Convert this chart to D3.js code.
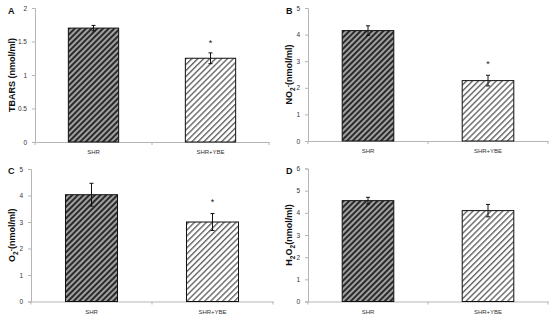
<!DOCTYPE html>
<html>
<head>
<meta charset="utf-8">
<script src="https://cdn.jsdelivr.net/npm/d3@7"></script>
<style>
  body { margin: 0; background: #fff; }
  svg { display: block; font-family: "Liberation Sans", Arial, sans-serif; }
</style>
</head>
<body>
<div id="chart"></div>
<script>
// groups on the x axis
var groups = ["SHR", "SHR+YBE"];

// mean values and errors per panel
var tbars = [1.70, 1.25], tbarsErr = [0.04, 0.08];
var no2 = [4.15, 2.27], no2Err = [0.18, 0.20];
var o2 = [4.03, 3.00], o2Err = [0.43, 0.32];
var h2o2 = [4.55, 4.10], h2o2Err = [0.15, 0.28];

// significance stars (value where the * sits, null = none)
var starsA = [null, 1.50], starsB = [null, 2.92], starsC = [null, 3.78], starsD = [null, null];

// y tick labels
var ticksA = [0, 0.5, 1, 1.5, 2];
var ticksB = [0, 1, 2, 3, 4, 5];
var ticksC = [0, 1, 2, 3, 4, 5];
var ticksD = [0, 1, 2, 3, 4, 5, 6];

var svg = d3.select("#chart").append("svg")
    .attr("width", 550)
    .attr("height", 321);

// hatch patterns
var defs = svg.append("defs");
var p1 = defs.append("pattern")
    .attr("id", "dark")
    .attr("patternUnits", "userSpaceOnUse")
    .attr("width", 4).attr("height", 4)
    .attr("patternTransform", "rotate(45)");
p1.append("rect").attr("width", 4).attr("height", 4).attr("fill", "#a0a0a0");
p1.append("rect").attr("width", 2).attr("height", 4).attr("fill", "#2a2a2a");

var p2 = defs.append("pattern")
    .attr("id", "light")
    .attr("patternUnits", "userSpaceOnUse")
    .attr("width", 4.2).attr("height", 4.2)
    .attr("patternTransform", "rotate(45)");
p2.append("rect").attr("width", 4.2).attr("height", 4.2).attr("fill", "#fff");
p2.append("rect").attr("width", 1.4).attr("height", 4.2).attr("fill", "#666");

var fills = ["url(#dark)", "url(#light)"];

function panel(opt) {
  var x = d3.scaleBand().domain(groups)
      .range([opt.left, opt.right])
      .paddingInner(0.57).paddingOuter(0.285);
  var y = d3.scaleLinear().domain([0, opt.max]).range([opt.bottom, opt.top]);
  var g = svg.append("g");

  // y axis
  var ya = g.append("g")
      .attr("transform", "translate(" + opt.left + ",0)")
      .call(d3.axisLeft(y).tickValues(opt.ticks).tickFormat(d3.format("~g"))
        .tickSize(3).tickPadding(5));
  ya.select(".domain").attr("stroke", "#b5b5b5");
  ya.selectAll(".tick line").attr("stroke", "#b5b5b5");
  ya.selectAll("text").attr("font-size", 6.5).attr("fill", "#333");

  // x axis
  var xa = g.append("g")
      .attr("transform", "translate(0," + opt.bottom + ")")
      .call(d3.axisBottom(x).tickSize(0).tickPadding(8));
  xa.select(".domain").attr("stroke", "#b5b5b5");
  xa.selectAll("text").attr("font-size", 6).attr("fill", "#333");
  var step = x.step();
  [opt.left, opt.left + step, opt.right].forEach(function(v) {
    xa.append("line").attr("x1", v).attr("x2", v).attr("y1", 0).attr("y2", 3)
      .attr("stroke", "#b5b5b5");
  });

  // bars
  g.selectAll(".bar").data(opt.vals).enter().append("rect")
      .attr("x", function(d, i) { return x(groups[i]); })
      .attr("y", function(d) { return y(d); })
      .attr("width", x.bandwidth())
      .attr("height", function(d) { return opt.bottom - y(d); })
      .attr("fill", function(d, i) { return fills[i]; })
      .attr("stroke", "#111")
      .attr("stroke-width", 1);

  // error bars
  opt.vals.forEach(function(v, i) {
    var cx = x(groups[i]) + x.bandwidth() / 2;
    var e = opt.err[i];
    g.append("line").attr("x1", cx).attr("x2", cx)
      .attr("y1", y(v + e)).attr("y2", y(v - e)).attr("stroke", "#111");
    [v + e, v - e].forEach(function(w) {
      g.append("line").attr("x1", cx - 2).attr("x2", cx + 2)
        .attr("y1", y(w)).attr("y2", y(w)).attr("stroke", "#111");
    });
    if (opt.stars[i] != null) {
      g.append("text").attr("x", cx).attr("y", y(opt.stars[i]) + 4)
        .attr("text-anchor", "middle").attr("font-size", 9).attr("fill", "#222")
        .text("*");
    }
  });

  // panel letter
  g.append("text").attr("x", opt.lx).attr("y", opt.ly)
    .attr("font-size", 9).attr("font-weight", "bold").attr("fill", "#111")
    .text(opt.letter);

  // y label, with sub/superscripts
  var t = g.append("text")
    .attr("transform", "translate(" + opt.tx + "," + (opt.top + opt.bottom) / 2 + ") rotate(-90)")
    .attr("text-anchor", "middle")
    .attr("font-size", 9).attr("font-weight", "bold").attr("fill", "#111");
  var shift = 0;
  opt.label.forEach(function(part) {
    var target = part[1] === "sub" ? 2.5 : part[1] === "sup" ? -2.5 : 0;
    var s = t.append("tspan").text(part[0]).attr("dy", target - shift);
    if (part[1]) s.attr("font-size", 6.5);
    shift = target;
  });
}

panel({ letter: "A", lx: 8, ly: 14, left: 35, right: 269, top: 8, bottom: 142, max: 2,
  ticks: ticksA, vals: tbars, err: tbarsErr, stars: starsA, tx: 15,
  label: [["TBARS (nmol/ml)"]] });
panel({ letter: "B", lx: 286, ly: 14, left: 308, right: 548, top: 8, bottom: 141, max: 5,
  ticks: ticksB, vals: no2, err: no2Err, stars: starsB, tx: 292,
  label: [["NO"], ["2", "sub"], ["-", "sup"], ["(nmol/ml)"]] });
panel({ letter: "C", lx: 8, ly: 174, left: 31, right: 273, top: 169, bottom: 301.5, max: 5,
  ticks: ticksC, vals: o2, err: o2Err, stars: starsC, tx: 15,
  label: [["O"], ["2", "sub"], ["-", "sup"], ["(nmol/ml)"]] });
panel({ letter: "D", lx: 286, ly: 174, left: 308, right: 548, top: 168.5, bottom: 301.5, max: 6,
  ticks: ticksD, vals: h2o2, err: h2o2Err, stars: starsD, tx: 292,
  label: [["H"], ["2", "sub"], ["O"], ["2", "sub"], ["(nmol/ml)"]] });
</script>
</body>
</html>
